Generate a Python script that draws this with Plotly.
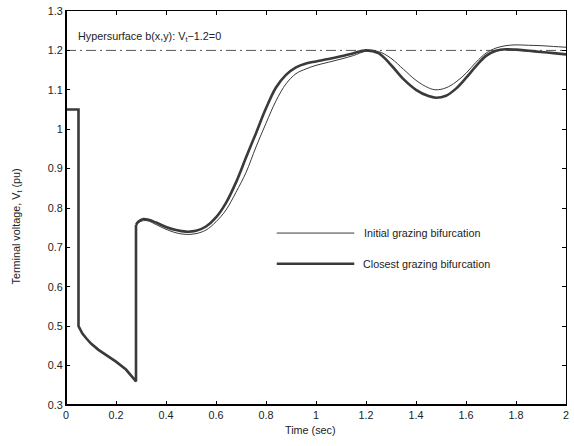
import plotly.graph_objects as go

# ---- data ----
t_closest = [0, 0.05, 0.05, 0.065, 0.08, 0.1, 0.13, 0.16, 0.2, 0.24, 0.28, 0.28, 0.29, 0.31, 0.33, 0.36,
             0.4, 0.44, 0.48, 0.52, 0.56, 0.6, 0.64, 0.68, 0.72, 0.76, 0.8, 0.84, 0.88, 0.92, 0.96, 1.0,
             1.05, 1.1, 1.15, 1.2, 1.25, 1.3, 1.35, 1.4, 1.45, 1.48, 1.52, 1.56, 1.6, 1.64, 1.68, 1.72,
             1.76, 1.8, 1.85, 1.9, 1.95, 2.0]
v_closest = [1.05, 1.05, 0.50, 0.482, 0.47, 0.456, 0.44, 0.427, 0.41, 0.39, 0.36, 0.757, 0.766, 0.772, 0.770, 0.763,
             0.752, 0.744, 0.740, 0.742, 0.753, 0.776, 0.813, 0.865, 0.928, 0.99, 1.053, 1.106, 1.138, 1.157, 1.167, 1.172,
             1.178, 1.185, 1.193, 1.2, 1.193, 1.163, 1.127, 1.10, 1.084, 1.080, 1.085, 1.103, 1.13, 1.16, 1.186, 1.199,
             1.203, 1.202, 1.199, 1.196, 1.193, 1.19]

t_initial = [0, 0.05, 0.05, 0.065, 0.08, 0.1, 0.13, 0.16, 0.2, 0.24, 0.28, 0.28, 0.29, 0.31, 0.33, 0.36,
             0.4, 0.44, 0.48, 0.52, 0.56, 0.6, 0.64, 0.68, 0.72, 0.76, 0.8, 0.84, 0.88, 0.92, 0.96, 1.0,
             1.05, 1.1, 1.15, 1.2, 1.25, 1.3, 1.35, 1.4, 1.45, 1.48, 1.52, 1.56, 1.6, 1.64, 1.68, 1.72,
             1.76, 1.8, 1.85, 1.9, 1.95, 2.0]
v_initial = [1.05, 1.05, 0.50, 0.482, 0.47, 0.456, 0.44, 0.427, 0.41, 0.39, 0.36, 0.755, 0.763, 0.768, 0.767, 0.758,
             0.746, 0.737, 0.733, 0.735, 0.744, 0.765, 0.795, 0.84, 0.89, 0.955, 1.015, 1.072, 1.115, 1.141, 1.153, 1.162,
             1.17, 1.178, 1.187, 1.198, 1.197, 1.18, 1.152, 1.124, 1.105, 1.100, 1.105, 1.12, 1.142, 1.17, 1.193, 1.206,
             1.212, 1.214, 1.213, 1.212, 1.210, 1.208]

hyper_level = 1.2
hyper_t = [0, 2]

x_ticks = [0, 0.2, 0.4, 0.6, 0.8, 1, 1.2, 1.4, 1.6, 1.8, 2]
x_ticktext = ["0", "0.2", "0.4", "0.6", "0.8", "1", "1.2", "1.4", "1.6", "1.8", "2"]
y_ticks = [0.3, 0.4, 0.5, 0.6, 0.7, 0.8, 0.9, 1.0, 1.1, 1.2, 1.3]
y_ticktext = ["0.3", "0.4", "0.5", "0.6", "0.7", "0.8", "0.9", "1", "1.1", "1.2", "1.3"]

legend_labels = ["Initial grazing bifurcation", "Closest grazing bifurcation"]

FONT = "Liberation Sans, Arial, Helvetica, sans-serif"
LINE_COLOR = "#3a3a3a"
JUMP = 11  # index where the post-fault-clearing smooth part starts
TXT = 10.8

fig = go.Figure()

fig.add_trace(go.Scatter(x=hyper_t, y=[hyper_level, hyper_level], mode="lines",
                         line=dict(color="#555555", width=1, dash="10px,4px,2px,4px"),
                         showlegend=False, hoverinfo="skip"))

for t, v, w, name in [(t_initial, v_initial, 1, legend_labels[0]),
                      (t_closest, v_closest, 2.6, legend_labels[1])]:
    fig.add_trace(go.Scatter(x=t[:JUMP + 1], y=v[:JUMP + 1], mode="lines", name=name,
                             line=dict(color=LINE_COLOR, width=w), showlegend=False))
    fig.add_trace(go.Scatter(x=t[JUMP:], y=v[JUMP:], mode="lines", name=name,
                             line=dict(color=LINE_COLOR, width=w, shape="spline", smoothing=1.0),
                             showlegend=False))

axis_common = dict(showline=True, linecolor="black", linewidth=1, mirror="allticks",
                   ticks="inside", ticklen=4, tickcolor="black", tickwidth=1,
                   showgrid=False, zeroline=False,
                   tickfont=dict(family=FONT, size=10.8, color="#222"))

fig.update_xaxes(range=[0, 2], tickvals=x_ticks, ticktext=x_ticktext, **axis_common)
fig.update_yaxes(range=[0.3, 1.3], tickvals=y_ticks, ticktext=y_ticktext, **axis_common)

shapes = [
    dict(type="line", xref="paper", yref="paper", x0=0, x1=0, y0=0, y1=1,
         line=dict(color="black", width=2)),
    dict(type="line", xref="paper", yref="paper", x0=0, x1=1, y0=0, y1=0,
         line=dict(color="black", width=2)),
    dict(type="line", xref="paper", yref="paper", x0=0.4215, x1=0.5765, y0=0.4364, y1=0.4364,
         line=dict(color=LINE_COLOR, width=1)),
    dict(type="line", xref="paper", yref="paper", x0=0.4215, x1=0.5765, y0=0.3585, y1=0.3585,
         line=dict(color=LINE_COLOR, width=2.6)),
]

annotations = [
    dict(text="Hypersurface b(x,y): V<sub>t</sub>\u22121.2=0", xref="paper", yref="paper",
         x=0.0199, y=0.934, xanchor="left", yanchor="middle", showarrow=False,
         font=dict(family=FONT, size=TXT, color="#222")),
    dict(text=legend_labels[0], xref="paper", yref="paper", x=0.5924, y=0.4364,
         xanchor="left", yanchor="middle", showarrow=False,
         font=dict(family=FONT, size=TXT, color="#222")),
    dict(text=legend_labels[1], xref="paper", yref="paper", x=0.5904, y=0.3585,
         xanchor="left", yanchor="middle", showarrow=False,
         font=dict(family=FONT, size=TXT, color="#222")),
    dict(text="Time (sec)", xref="paper", yref="paper", x=0.489, y=-0.0636,
         xanchor="center", yanchor="middle", showarrow=False,
         font=dict(family=FONT, size=TXT, color="#222")),
    dict(text="Terminal voltage, V<sub>t</sub> (pu)", xref="paper", yref="paper", x=-0.0974, y=0.454,
         xanchor="center", yanchor="middle", textangle=-90, showarrow=False,
         font=dict(family=FONT, size=TXT, color="#222")),
]

fig.update_layout(width=574, height=446, margin=dict(l=66, r=5, t=7, b=41),
                  paper_bgcolor="white", plot_bgcolor="white",
                  shapes=shapes, annotations=annotations, showlegend=False)

fig.write_html("out.html")
